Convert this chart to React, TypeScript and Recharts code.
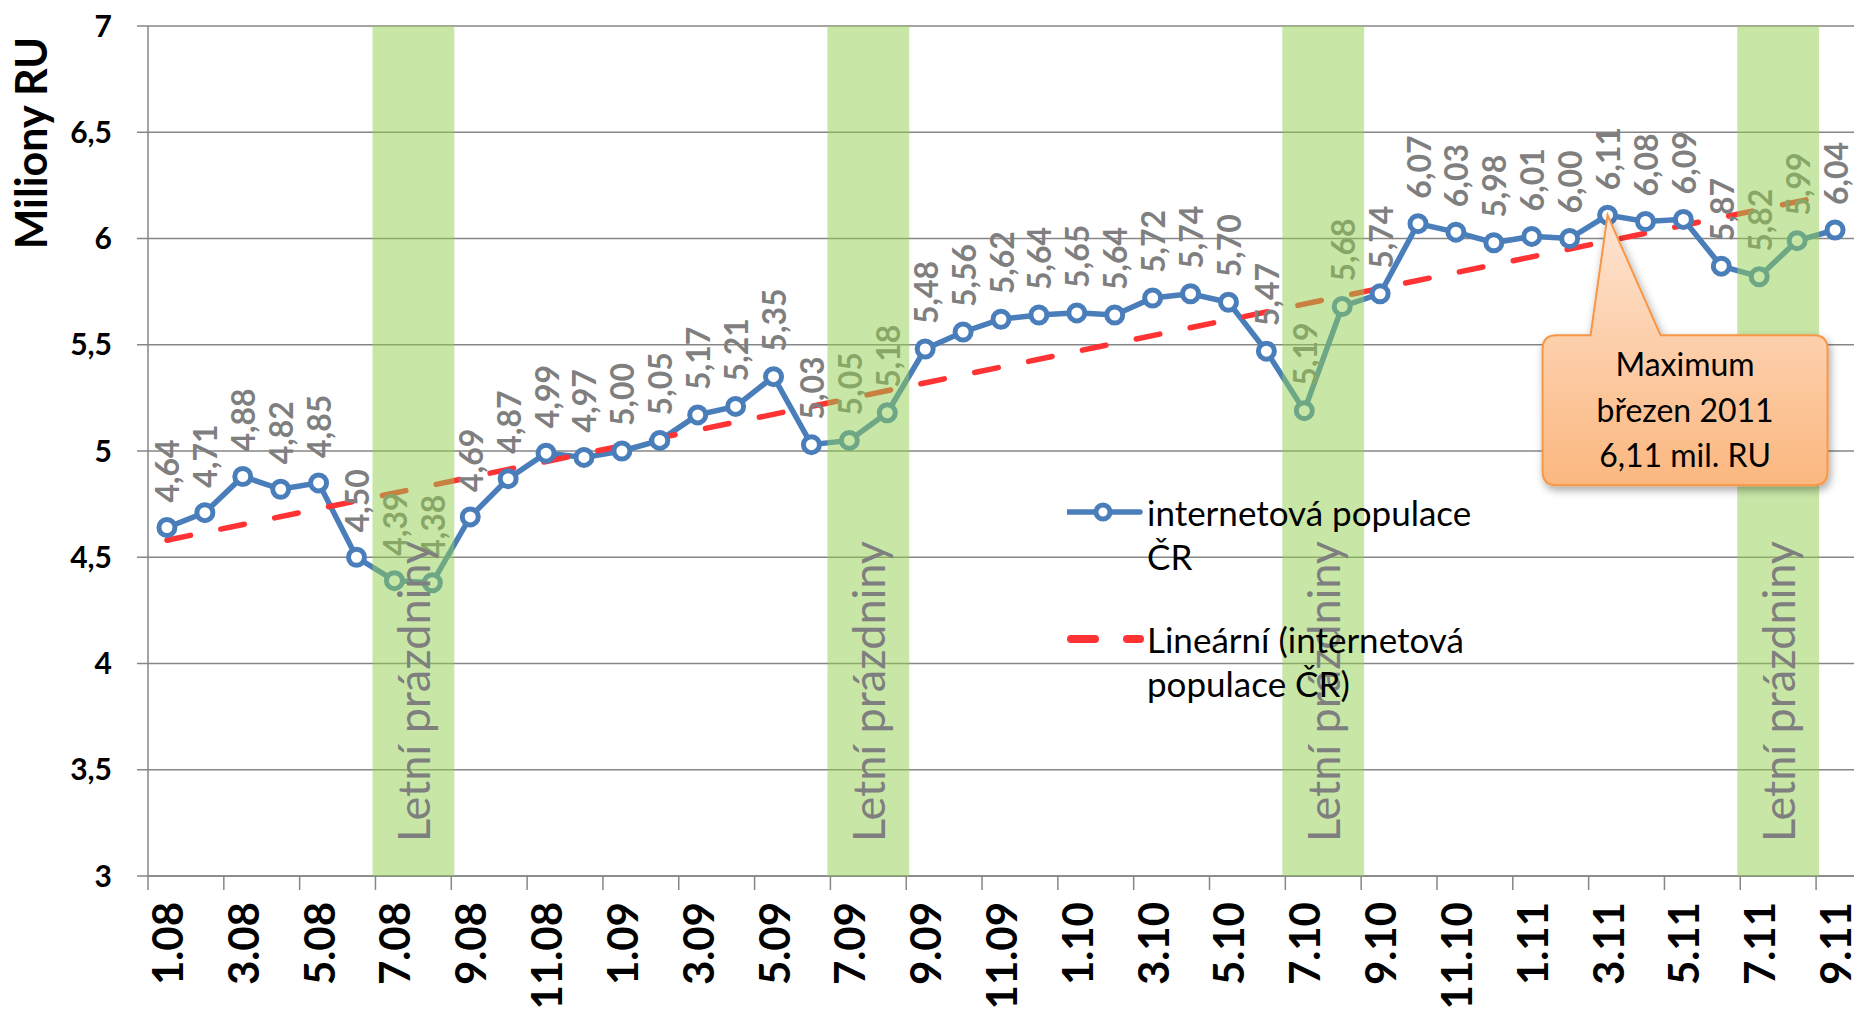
import React from 'react';
import {
  LineChart,
  Line,
  XAxis,
  YAxis,
  CartesianGrid,
  ReferenceArea,
  ReferenceDot,
  LabelList,
  Legend,
} from 'recharts';

// ---------- data ----------
const monthLabels = [
  '1.08', '2.08', '3.08', '4.08', '5.08', '6.08', '7.08', '8.08', '9.08', '10.08', '11.08', '12.08',
  '1.09', '2.09', '3.09', '4.09', '5.09', '6.09', '7.09', '8.09', '9.09', '10.09', '11.09', '12.09',
  '1.10', '2.10', '3.10', '4.10', '5.10', '6.10', '7.10', '8.10', '9.10', '10.10', '11.10', '12.10',
  '1.11', '2.11', '3.11', '4.11', '5.11', '6.11', '7.11', '8.11', '9.11',
];

const populationValues = [
  4.64, 4.71, 4.88, 4.82, 4.85, 4.50, 4.39, 4.38, 4.69, 4.87, 4.99, 4.97,
  5.00, 5.05, 5.17, 5.21, 5.35, 5.03, 5.05, 5.18, 5.48, 5.56, 5.62, 5.64,
  5.65, 5.64, 5.72, 5.74, 5.70, 5.47, 5.19, 5.68, 5.74, 6.07, 6.03, 5.98,
  6.01, 6.00, 6.11, 6.08, 6.09, 5.87, 5.82, 5.99, 6.04,
];

// linear trend: value at first and last month
const trendEnds = [4.58, 6.21];

const summerStartMonths = ['7.08', '7.09', '7.10', '7.11'];
const summerLength = 2;
const summerLabel = 'Letní prázdniny';

const yTicks = [3, 3.5, 4, 4.5, 5, 5.5, 6, 6.5, 7];

const seriesName = 'internetová populace ČR';
const trendName = 'Lineární (internetová populace ČR)';
const yTitle = 'Miliony RU';

const calloutMonth = '3.11';
const calloutLines = ['Maximum', 'březen 2011', '6,11 mil. RU'];

// ---------- derived table ----------
const lastIdx = monthLabels.length - 1;
const chartData = monthLabels.map((m, i) => ({
  x: i + 0.5,
  month: m,
  value: populationValues[i],
  trend: i === 0 ? trendEnds[0] : i === lastIdx ? trendEnds[1] : null,
}));
const xTicks = monthLabels.map((_, i) => i).filter((i) => i % 2 === 0);

// ---------- styles ----------
const FONT = 'Lato, "Open Sans", sans-serif';
const BLUE = '#4A7EBB';
const RED = '#FF3333';
const GRID = '#868686';
const LABEL_GREY = '#7F7F7F';

const fmt = (v: number) => v.toFixed(2).replace('.', ',');
const fmtTick = (v: number) => String(v).replace('.', ',');

const XTick = (props: any) => {
  const { x, y, payload, width } = props;
  const half = (typeof width === 'number' && width > 0 ? width : 1706) / monthLabels.length / 2;
  const label = monthLabels[payload.value];
  if (label === undefined) return null;
  const tx = x + half;
  return (
    <text
      x={tx}
      y={y}
      transform={`rotate(-90 ${tx} ${y})`}
      textAnchor="end"
      dominantBaseline="central"
      fontFamily={FONT}
      fontWeight="bold"
      fontSize={42}
      fill="#000"
    >
      {label}
    </text>
  );
};

const DataLabel = (props: any) => {
  const { x, y, value } = props;
  if (value == null) return null;
  const ty = y - 25;
  return (
    <text
      x={x}
      y={ty}
      transform={`rotate(-90 ${x} ${ty})`}
      textAnchor="start"
      dominantBaseline="central"
      fontFamily={FONT}
      fontWeight="bold"
      fontSize={32}
      fill={LABEL_GREY}
    >
      {fmt(value)}
    </text>
  );
};

const SummerShape = (props: any) => {
  const { x, y, width, height } = props;
  const cx = x + width / 2;
  const ty = y + height - 34;
  return (
    <g>
      <rect x={x - 3} y={y} width={width + 6} height={height} fill="#92D050" fillOpacity={0.5} />
      <text
        x={cx}
        y={ty}
        transform={`rotate(-90 ${cx} ${ty})`}
        textAnchor="start"
        dominantBaseline="central"
        fontFamily={FONT}
        fontSize={45}
        fill={LABEL_GREY}
      >
        {summerLabel}
      </text>
    </g>
  );
};

const CalloutShape = (props: any) => {
  const { cx, cy } = props;
  if (cx == null || cy == null) return null;
  const L = cx - 65;
  const R = cx + 220;
  const T = cy + 120;
  const B = cy + 270;
  const r = 14;
  const b1 = cx - 17;
  const b2 = cx + 53;
  const d = `M ${L + r} ${T} L ${b1} ${T} L ${cx} ${cy} L ${b2} ${T} L ${R - r} ${T} Q ${R} ${T} ${R} ${T + r} L ${R} ${B - r} Q ${R} ${B} ${R - r} ${B} L ${L + r} ${B} Q ${L} ${B} ${L} ${B - r} L ${L} ${T + r} Q ${L} ${T} ${L + r} ${T} Z`;
  const tx = (L + R) / 2;
  return (
    <g>
      <defs>
        <linearGradient id="calloutGrad" x1="0" y1="0" x2="0" y2="1">
          <stop offset="0%" stopColor="#FEE4D2" />
          <stop offset="100%" stopColor="#FBB77F" />
        </linearGradient>
        <filter id="calloutShadow" x="-20%" y="-20%" width="140%" height="140%">
          <feDropShadow dx="2" dy="4" stdDeviation="4" floodColor="#000" floodOpacity="0.35" />
        </filter>
      </defs>
      <path d={d} fill="url(#calloutGrad)" stroke="#F79646" strokeWidth={2} filter="url(#calloutShadow)" />
      {calloutLines.map((line, i) => (
        <text
          key={i}
          x={tx}
          y={cy + 161 + i * 45.5}
          textAnchor="middle"
          fontFamily={FONT}
          fontSize={32}
          fill="#000"
        >
          {line}
        </text>
      ))}
    </g>
  );
};

const LegendContent = (props: any) => {
  const { payload } = props;
  if (!payload) return null;
  const items = [...payload].sort((a: any, b: any) =>
    (a.dataKey === 'trend' ? 1 : 0) - (b.dataKey === 'trend' ? 1 : 0),
  );
  return (
    <div style={{ fontFamily: FONT, fontSize: 35, color: '#000' }}>
      {items.map((entry: any, i: number) => {
        const isTrend = entry.dataKey === 'trend';
        return (
          <div key={i} style={{ display: 'flex', alignItems: 'flex-start', marginBottom: i === 0 ? 39 : 0 }}>
            <svg width={80} height={44} style={{ flex: 'none' }}>
              {isTrend ? (
                <line x1={4} y1={22} x2={73} y2={22} stroke={RED} strokeWidth={8} strokeLinecap="round" strokeDasharray="24 32" />
              ) : (
                <g>
                  <line x1={0} y1={22} x2={73} y2={22} stroke={BLUE} strokeWidth={5.5} strokeLinecap="round" />
                  <circle cx={36} cy={22} r={7} fill="#fff" stroke={BLUE} strokeWidth={5} />
                </g>
              )}
            </svg>
            <div style={{ width: 345, lineHeight: '44px' }}>{entry.value}</div>
          </div>
        );
      })}
    </div>
  );
};

const YTitle = (props: any) => {
  const vb = props.viewBox || { x: 0, y: 26 };
  const x = vb.x + 30;
  const y = vb.y + 117;
  return (
    <text
      x={x}
      y={y}
      transform={`rotate(-90 ${x} ${y})`}
      textAnchor="middle"
      dominantBaseline="central"
      fontFamily={FONT}
      fontWeight="bold"
      fontSize={43}
      fill="#000"
    >
      {yTitle}
    </text>
  );
};

export default function App() {
  const calloutIdx = monthLabels.indexOf(calloutMonth);
  return (
    <div style={{ position: 'absolute', left: 0, top: 0, width: 1857, height: 1016, background: '#fff' }}>
      <LineChart
        width={1857}
        height={1016}
        data={chartData}
        margin={{ top: 26, right: 3, left: 0, bottom: 0 }}
      >
        <CartesianGrid horizontal vertical={false} stroke={GRID} strokeWidth={1.5} />
        <XAxis
          dataKey="x"
          type="number"
          domain={[0, monthLabels.length]}
          ticks={xTicks}
          interval={0}
          height={140}
          tickSize={14}
          tickMargin={12}
          stroke={GRID}
          strokeWidth={1.5}
          tick={<XTick />}
          allowDecimals
        />
        <YAxis
          domain={[3, 7]}
          ticks={yTicks}
          interval={0}
          width={148}
          tickSize={11}
          tickMargin={25}
          stroke={GRID}
          strokeWidth={1.5}
          tickFormatter={fmtTick}
          tick={{ fontFamily: FONT, fontWeight: 'bold', fontSize: 30, fill: '#000' }}
          label={(p: any) => <YTitle {...p} />}
        />
        <Legend
          layout="vertical"
          align="center"
          verticalAlign="middle"
          wrapperStyle={{ left: 1067, top: 490, width: 440 }}
          content={<LegendContent />}
        />
        <Line
          name={seriesName}
          dataKey="value"
          type="linear"
          stroke={BLUE}
          strokeWidth={5.5}
          dot={{ r: 8, fill: '#fff', stroke: BLUE, strokeWidth: 5 }}
          activeDot={false}
          isAnimationActive={false}
        >
          <LabelList dataKey="value" content={<DataLabel />} />
        </Line>
        <Line
          name={trendName}
          dataKey="trend"
          type="linear"
          stroke={RED}
          strokeWidth={5.5}
          strokeDasharray="24 31"
          strokeLinecap="round"
          connectNulls
          dot={false}
          activeDot={false}
          isAnimationActive={false}
          zIndex={450}
        />
        {summerStartMonths.map((m) => {
          const s = monthLabels.indexOf(m);
          return (
            <ReferenceArea
              key={m}
              x1={s}
              x2={s + summerLength}
              y1={3}
              y2={7}
              shape={<SummerShape />}
              zIndex={2100}
              ifOverflow="visible"
            />
          );
        })}
        <ReferenceDot
          x={calloutIdx + 0.5}
          y={populationValues[calloutIdx]}
          r={0}
          shape={<CalloutShape />}
          zIndex={2200}
          ifOverflow="visible"
        />
      </LineChart>
    </div>
  );
}
